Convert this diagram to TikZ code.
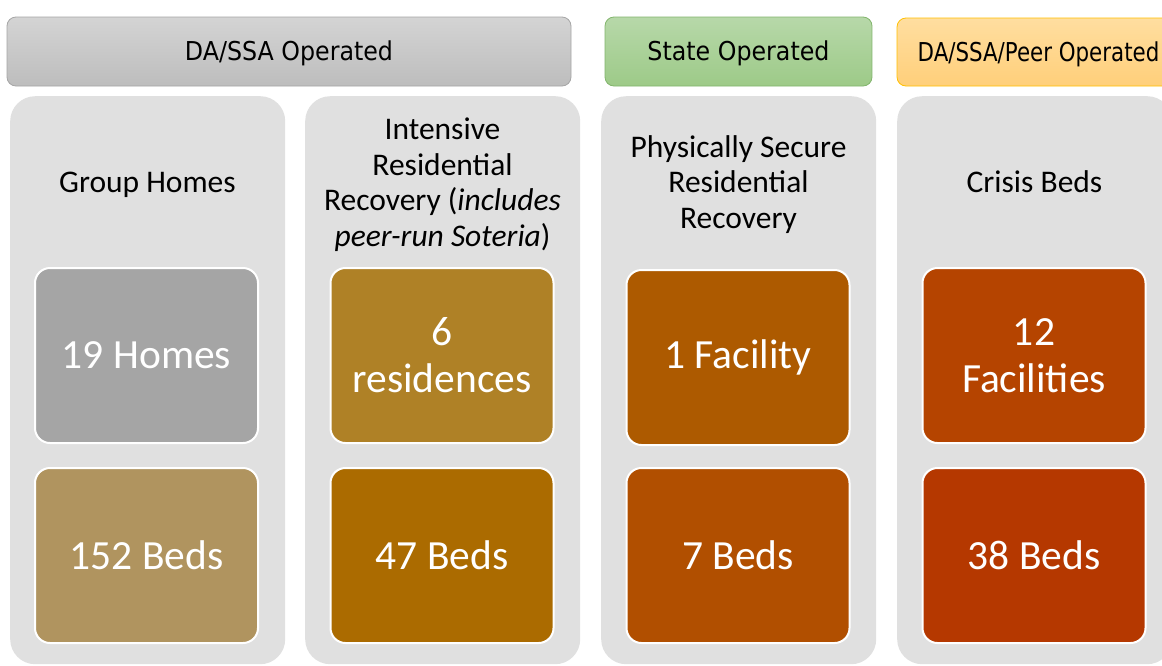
\documentclass[tikz,border=0pt]{standalone}
\usepackage{fontspec}
\setmainfont{Carlito}
\newfontfamily\headfont[FakeStretch=0.913]{DejaVu Sans}
\definecolor{panelgray}{HTML}{E0E0E0}
\definecolor{grayTop}{HTML}{D4D4D4}
\definecolor{grayBot}{HTML}{BDBDBD}
\definecolor{grayLine}{HTML}{A6A6A6}
\definecolor{greenTop}{HTML}{B7D8A9}
\definecolor{greenBot}{HTML}{9DCA88}
\definecolor{greenLine}{HTML}{82B56C}
\definecolor{orangeTop}{HTML}{FFDEA0}
\definecolor{orangeBot}{HTML}{FFCF7A}
\definecolor{orangeLine}{HTML}{FFC000}
\definecolor{cHomes}{HTML}{A5A5A5}
\definecolor{cBedsA}{HTML}{B0945F}
\definecolor{cRes}{HTML}{AF8126}
\definecolor{cBedsB}{HTML}{AB6B00}
\definecolor{cFac}{HTML}{AD5A00}
\definecolor{cBedsC}{HTML}{B14F00}
\definecolor{cCrisis}{HTML}{B54400}
\definecolor{cBedsD}{HTML}{B53800}
\begin{document}
\begin{tikzpicture}[x=1pt,y=-1pt,
  header/.style={rounded corners=9pt, line width=0.8pt, inner sep=0pt,
    text height=18pt, text depth=0pt,
    font=\headfont\fontsize{26}{30}\selectfont, text=black},
  panel/.style={fill=panelgray, rounded corners=25pt, inner sep=0pt,
    anchor=north west, minimum width=275pt, minimum height=568pt},
  paneltitle/.style={align=center, text=black, inner sep=0pt,
    font=\fontsize{31.5}{35.5}\selectfont},
  countbox/.style={draw=white, line width=2pt, rounded corners=15pt,
    minimum width=223pt, minimum height=175pt, inner sep=0pt,
    align=center, text=white, font=\fontsize{41.5}{47}\selectfont}
]
\useasboundingbox (0,0) rectangle (1162,665);
\clip (0,0) rectangle (1162,665);
\fill[white] (0,0) rectangle (1162,665);

% operator headers
\node[header, draw=grayLine, top color=grayTop, bottom color=grayBot,
  minimum width=564pt, minimum height=69pt] (hdrA) at (289,51.5) {DA/SSA Operated};
\node[header, draw=greenLine, top color=greenTop, bottom color=greenBot,
  minimum width=267pt, minimum height=69pt] (hdrB) at (738.5,51.5) {State Operated};
\node[header, draw=orangeLine, top color=orangeTop, bottom color=orangeBot,
  minimum width=283pt, minimum height=68pt] (hdrC) at (1038.5,52)
  {\scalebox{0.9}[1]{DA/SSA/Peer Operated}};

% service panels
\node[panel] (pA) at (10,96) {};
\node[panel] (pB) at (305,96) {};
\node[panel] (pC) at (601,96) {};
\node[panel] (pD) at (897,96) {};

% panel titles
\node[paneltitle] (tA) at (147.5,185) {Group Homes};
\node[paneltitle] (tB) at (442.5,184.5) {Intensive\\Residential\\Recovery (\textit{includes}\\\textit{peer-run Soteria})};
\node[paneltitle] (tC) at (738.5,184.5) {Physically Secure\\Residential\\Recovery};
\node[paneltitle] (tD) at (1034.5,182) {Crisis Beds};

% facility counts
\node[countbox, fill=cHomes] (nA) at (146.5,355.5) {19 Homes};
\node[countbox, fill=cRes] (nB) at (442,355.5) {6\\residences};
\node[countbox, fill=cFac] (nC) at (738,357.5) {1 Facility};
\node[countbox, fill=cCrisis] (nD) at (1034,355.5) {12\\Facilities};

% bed counts
\node[countbox, fill=cBedsA] (bA) at (146.5,555.5) {152 Beds};
\node[countbox, fill=cBedsB] (bB) at (442,555.5) {47 Beds};
\node[countbox, fill=cBedsC] (bC) at (738,555.5) {7 Beds};
\node[countbox, fill=cBedsD] (bD) at (1034,555.5) {38 Beds};
\end{tikzpicture}
\end{document}
